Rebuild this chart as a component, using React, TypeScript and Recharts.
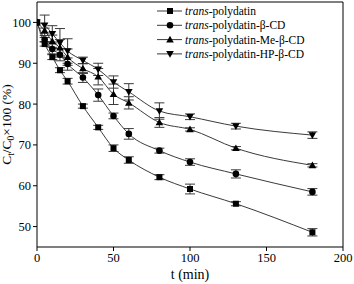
import React from "react";
import { LineChart, Line, XAxis, YAxis, ErrorBar, ReferenceLine, Label } from "recharts";

const times = [0, 5, 10, 15, 20, 30, 40, 50, 60, 80, 100, 130, 180];
const polydatin = [100, 94.7, 91.5, 88.3, 85.6, 79.5, 74.3, 69.2, 66.3, 62.1, 59.2, 55.6, 48.6];
const polydatinErr = [0, 0.5, 0.6, 0.6, 0.7, 0.5, 0.5, 0.8, 0.8, 0.6, 1.2, 0.5, 0.9];
const betaCD = [100, 95.8, 93.5, 92.1, 89.8, 86.5, 82.2, 77.1, 72.7, 68.6, 65.8, 62.9, 58.5];
const betaCDErr = [0, 0.5, 1.2, 1.5, 1.5, 1.2, 1.5, 0.7, 1.3, 0.6, 0.8, 1.0, 0.8];
const meBetaCD = [100, 98.0, 95.4, 93.8, 91.5, 88.7, 86.7, 82.4, 80.3, 75.5, 73.8, 69.2, 65.0];
const meBetaCDErr = [0, 0.6, 1.5, 2.0, 2.0, 1.2, 2.0, 2.5, 1.5, 1.2, 0.4, 0.4, 0.4];
const hpBetaCD = [100, 99.3, 97.2, 95.0, 93.0, 90.7, 88.5, 85.4, 83.0, 78.3, 76.9, 74.6, 72.4];
const hpBetaCDErr = [0, 2.5, 2.0, 3.5, 3.0, 0.8, 1.5, 1.5, 2.0, 2.0, 0.7, 0.7, 0.8];

const xTicks = [0, 50, 100, 150, 200];
const yTicks = [50, 60, 70, 80, 90, 100];

const seriesNames = [
  "-polydatin",
  "-polydatin-β-CD",
  "-polydatin-Me-β-CD",
  "-polydatin-HP-β-CD",
];
const shapes = ["square", "circle", "triangle", "triangleDown"];

const data = times.map((t, i) => ({
  t,
  a: polydatin[i], aErr: polydatinErr[i],
  b: betaCD[i], bErr: betaCDErr[i],
  c: meBetaCD[i], cErr: meBetaCDErr[i],
  d: hpBetaCD[i], dErr: hpBetaCDErr[i],
}));

const FONT = "'Liberation Serif', 'DejaVu Serif', serif";
const LINE = "#3a3a3a";

function Marker({ shape, cx, cy }: { shape: string; cx: number; cy: number }) {
  if (shape === "square") return <rect x={cx - 3} y={cy - 3} width={6} height={6} fill="#000" />;
  if (shape === "circle") return <circle cx={cx} cy={cy} r={3.3} fill="#000" />;
  if (shape === "triangle")
    return <polygon points={`${cx},${cy - 3.8} ${cx - 3.8},${cy + 2.8} ${cx + 3.8},${cy + 2.8}`} fill="#000" />;
  return <polygon points={`${cx},${cy + 3.8} ${cx - 3.8},${cy - 2.8} ${cx + 3.8},${cy - 2.8}`} fill="#000" />;
}

const makeDot = (shape: string) => (props: any) => (
  <Marker key={`${shape}-${props.index}`} shape={shape} cx={props.cx} cy={props.cy} />
);

const YLabel = (props: any) => {
  const vb = props.viewBox || {};
  const cx = 11;
  const cy = (vb.y ?? 2) + (vb.height ?? 245) / 2;
  return (
    <text
      x={cx}
      y={cy}
      transform={`rotate(-90, ${cx}, ${cy})`}
      textAnchor="middle"
      fontFamily={FONT}
      fontSize={13.5}
      fill="#000"
    >
      <tspan>C</tspan>
      <tspan fontSize={9.5} dy={3}>t</tspan>
      <tspan dy={-3}>/C</tspan>
      <tspan fontSize={9.5} dy={3}>0</tspan>
      <tspan dy={-3}>×100 (%)</tspan>
    </text>
  );
};

export default function App() {
  const keys = ["a", "b", "c", "d"];
  return (
    <div style={{ position: "absolute", left: 0, top: 0, width: 354, height: 284 }}>
      <LineChart width={354} height={284} data={data} margin={{ top: 2, right: 11, left: 0, bottom: 0 }}>
        <XAxis
          dataKey="t"
          type="number"
          domain={[0, 200]}
          ticks={xTicks}
          height={37}
          stroke="#000"
          tickLine={{ stroke: "#000" }}
          tickSize={4}
          tick={{ fontFamily: FONT, fontSize: 12.5, fill: "#000" }}
          allowDataOverflow
        >
          <Label
            value="t (min)"
            position="insideBottom"
            offset={5}
            style={{ fontFamily: FONT, fontSize: 14, fill: "#000" }}
          />
        </XAxis>
        <YAxis
          type="number"
          domain={[45, 105]}
          ticks={yTicks}
          width={37}
          stroke="#000"
          tickSize={4}
          tick={{ fontFamily: FONT, fontSize: 12.5, fill: "#000" }}
          allowDataOverflow
          label={<YLabel />}
        />
        <ReferenceLine y={105} stroke="#000" />
        <ReferenceLine x={200} stroke="#000" />
        {keys.map((k, i) => (
          <Line
            key={k}
            dataKey={k}
            type="monotone"
            stroke={LINE}
            strokeWidth={1}
            dot={makeDot(shapes[i])}
            activeDot={false}
            isAnimationActive={false}
          >
            <ErrorBar dataKey={`${k}Err`} width={5} stroke={LINE} strokeWidth={1} />
          </Line>
        ))}
      </LineChart>
      <div style={{ position: "absolute", left: 155, top: 3 }}>
        <svg width={160} height={60}>
          {seriesNames.map((name, i) => {
            const y = 8 + i * 14.3;
            return (
              <g key={name}>
                <line x1={2} x2={27} y1={y} y2={y} stroke={LINE} strokeWidth={1} />
                <Marker shape={shapes[i]} cx={15} cy={y} />
                <text x={30} y={y + 4} fontFamily={FONT} fontSize={11.5} fill="#000">
                  <tspan fontStyle="italic">trans</tspan>
                  <tspan>{name}</tspan>
                </text>
              </g>
            );
          })}
        </svg>
      </div>
    </div>
  );
}
